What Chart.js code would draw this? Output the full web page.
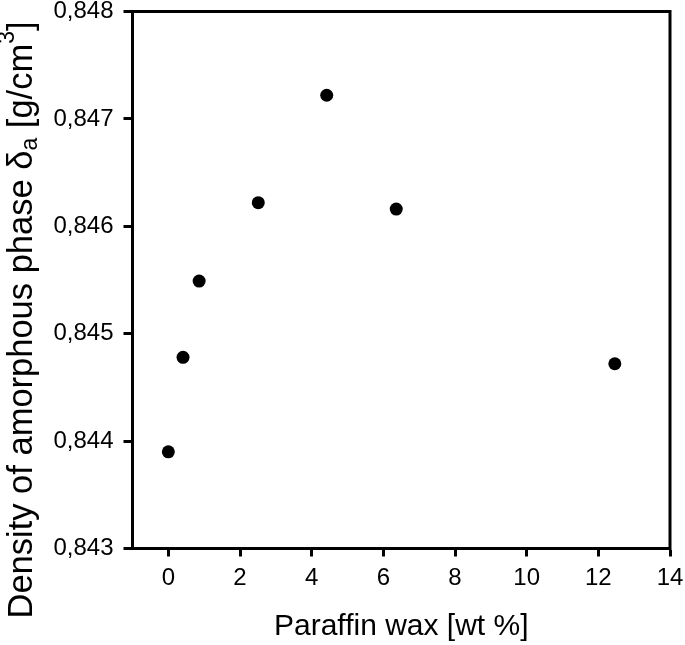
<!DOCTYPE html>
<html>
<head>
<meta charset="utf-8">
<script src="https://cdn.jsdelivr.net/npm/chart.js@4.4.1/dist/chart.umd.min.js"></script>
<style>
  html, body { margin: 0; padding: 0; background: #fff; }
  #wrap { width: 685px; height: 645px; }
</style>
</head>
<body>
<div id="wrap"><canvas id="chart"></canvas></div>
<script>
// paraffin wax content [wt %] and amorphous phase density [g/cm3]
const waxContent = [0, 0.41, 0.86, 2.51, 4.42, 6.36, 12.46];
const density = [0.84390, 0.84478, 0.84549, 0.84622, 0.84722, 0.84616, 0.84472];
const xTicks = [0, 2, 4, 6, 8, 10, 12, 14];
const yTicks = [0.843, 0.844, 0.845, 0.846, 0.847, 0.848];

const FONT = "'Liberation Sans', Arial, sans-serif";

// frame around the plot area (top and right sides too)
const framePlugin = {
  id: 'frame',
  afterDraw(chart) {
    const { ctx, chartArea: a } = chart;
    ctx.save();
    ctx.strokeStyle = '#000';
    ctx.lineWidth = 3;
    ctx.strokeRect(a.left, a.top, a.right - a.left, a.bottom - a.top);
    ctx.restore();
  }
};

// y title with subscript a and superscript 3
const yTitlePlugin = {
  id: 'yTitle',
  afterDraw(chart) {
    const ctx = chart.ctx;
    const parts = [
      { t: 'Density of amorphous phase ', size: 34.5, dy: 0 },
      { t: 'δ', size: 34.5, dy: 0 },
      { t: 'a', size: 23, dy: 9 },
      { t: ' [g/cm', size: 34.5, dy: 0 },
      { t: '3', size: 23, dy: -14 },
      { t: ']', size: 34.5, dy: 0 }
    ];
    ctx.save();
    let total = 0;
    parts.forEach(p => {
      ctx.font = p.size + 'px ' + FONT;
      p.w = ctx.measureText(p.t).width;
      total += p.w;
    });
    ctx.translate(22, 320);
    ctx.rotate(-Math.PI / 2);
    ctx.fillStyle = '#000';
    ctx.textBaseline = 'middle';
    let x = -total / 2;
    parts.forEach(p => {
      ctx.font = p.size + 'px ' + FONT;
      ctx.fillText(p.t, x, p.dy);
      x += p.w;
    });
    ctx.restore();
  }
};

const ctx = document.getElementById('chart').getContext('2d');
const chart = new Chart(ctx, {
  type: 'scatter',
  data: {
    datasets: [{
      data: waxContent.map((x, i) => ({ x: x, y: density[i] })),
      backgroundColor: '#000',
      borderColor: '#000',
      pointRadius: 6.5,
      pointHoverRadius: 6.5,
      borderWidth: 0
    }]
  },
  options: {
    responsive: true,
    maintainAspectRatio: false,
    animation: false,
    layout: { padding: { top: 11.5, right: 15, left: 0, bottom: 0 } },
    plugins: {
      legend: { display: false },
      tooltip: { enabled: false }
    },
    scales: {
      x: {
        type: 'linear',
        min: -1,
        max: 14,
        afterBuildTicks: (axis) => { axis.ticks = xTicks.map(v => ({ value: v })); },
        afterFit: (axis) => {
          axis.height = 96.5;
          axis.paddingLeft = 0;
          axis.paddingRight = 0;
        },
        grid: {
          drawOnChartArea: false,
          drawTicks: true,
          tickLength: 8,
          tickWidth: 3,
          tickColor: '#000'
        },
        border: { display: true, color: '#000', width: 3 },
        ticks: {
          color: '#000',
          padding: 7,
          font: { family: FONT, size: 24 }
        },
        title: {
          display: true,
          text: 'Paraffin wax [wt %]',
          color: '#000',
          font: { family: FONT, size: 30 },
          padding: { top: 4, bottom: 0 }
        }
      },
      y: {
        type: 'linear',
        min: 0.843,
        max: 0.848,
        afterBuildTicks: (axis) => { axis.ticks = yTicks.map(v => ({ value: v })); },
        afterFit: (axis) => {
          axis.width = 132.5;
          axis.paddingTop = 0;
          axis.paddingBottom = 0;
        },
        grid: {
          drawOnChartArea: false,
          drawTicks: true,
          tickLength: 9,
          tickWidth: 3,
          tickColor: '#000'
        },
        border: { display: true, color: '#000', width: 3 },
        ticks: {
          color: '#000',
          padding: 10,
          font: { family: FONT, size: 24 },
          callback: (v) => v.toFixed(3).replace('.', ',')
        }
      }
    }
  },
  plugins: [framePlugin, yTitlePlugin]
});
</script>
</body>
</html>
